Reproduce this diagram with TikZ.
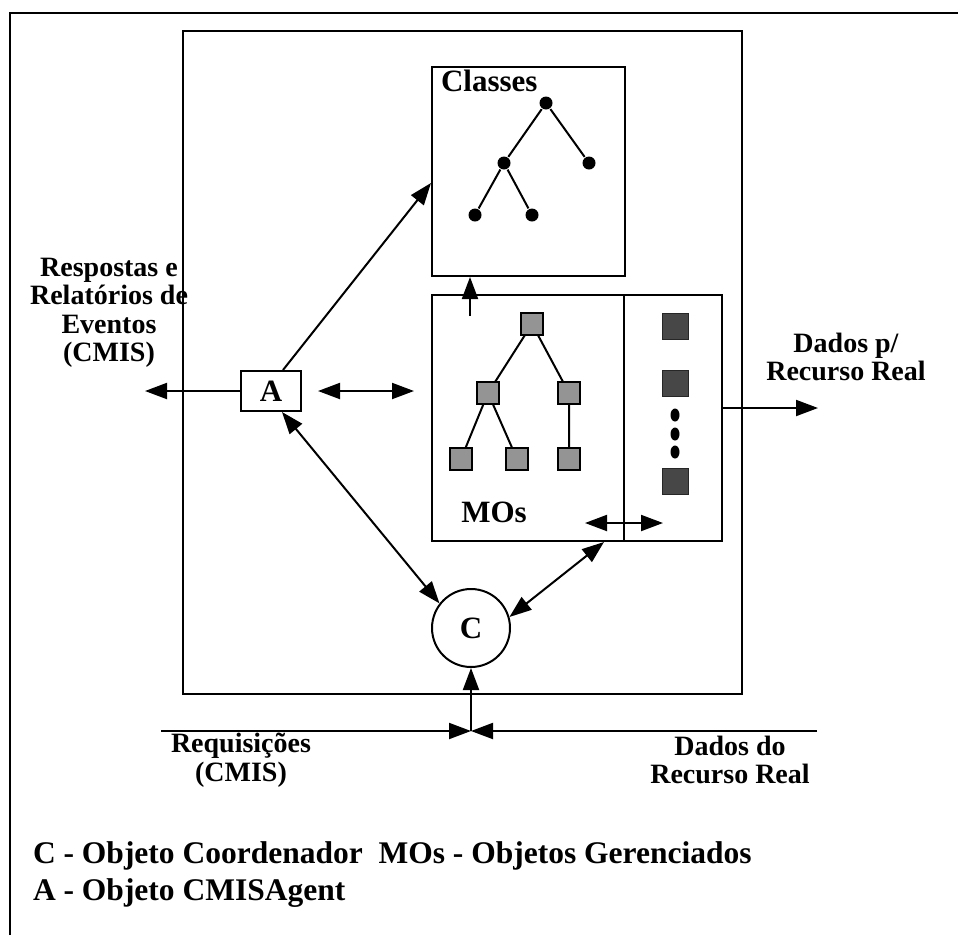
\documentclass[tikz,border=0pt]{standalone}
\usepackage{fontspec}
\setmainfont{Liberation Serif}
\usetikzlibrary{arrows.meta,calc,shapes.geometric}
\begin{document}
\begin{tikzpicture}[x=1pt,y=-1pt,
  line width=2pt,
  tip/.style={-{Triangle[length=22pt,width=16pt]}},
  biarrow/.style={{Triangle[length=22pt,width=16pt]}-{Triangle[length=22pt,width=16pt]}},
  frame/.style={draw,line width=2pt,inner sep=0pt},
  lbl/.style={font=\fontsize{28}{28.5}\selectfont\bfseries,align=center,inner sep=0pt},
  big/.style={font=\fontsize{31}{31}\selectfont\bfseries,inner sep=0pt},
  cls/.style={circle,fill=black,inner sep=0pt,minimum size=13pt},
  mo/.style={draw=black,line width=1.4pt,fill=black!42,inner sep=0pt,minimum size=22pt},
  inst/.style={draw=black!85,line width=1pt,fill=black!72,inner sep=0pt,minimum size=26pt},
  dotmark/.style={ellipse,fill=black,inner sep=0pt,minimum width=9pt,minimum height=13pt}]
\useasboundingbox (0,0) rectangle (958,935);
\fill[white] (0,0) rectangle (958,935);

% page frame (top and left edges)
\draw[line width=1.8pt] (10,935) -- (10,13) -- (958,13);

% agent container
\node[frame,minimum width=559pt,minimum height=663pt] (main) at (462.5,362.5) {};

% class hierarchy
\node[frame,minimum width=193pt,minimum height=209pt] (classes) at (528.5,171.5) {};
\node[big,anchor=north west] (clslbl) at (440,69) {Classes};
\node[cls] (c0) at (546,103) {};
\node[cls] (c1) at (504,163) {};
\node[cls] (c2) at (589,163) {};
\node[cls] (c3) at (475,215) {};
\node[cls] (c4) at (532,215) {};
\draw (c0) -- (c1) (c0) -- (c2) (c1) -- (c3) (c1) -- (c4);

% managed objects
\node[frame,minimum width=192pt,minimum height=246pt] (mos) at (528,418) {};
\node[frame,minimum width=98pt,minimum height=246pt] (res) at (673,418) {};
\draw (532,324) -- (488,393) (532,324) -- (569,393)
  (488,393) -- (461,459) (488,393) -- (517,459) (569,393) -- (569,459);
\node[mo] (m0) at (532,324) {};
\node[mo] (m1) at (488,393) {};
\node[mo] (m2) at (569,393) {};
\node[mo] (m3) at (461,459) {};
\node[mo] (m4) at (517,459) {};
\node[mo] (m5) at (569,459) {};
\node[big] (moslbl) at (494,512) {MOs};

% resource data column
\node[inst] (r0) at (675,326) {};
\node[inst] (r1) at (675,383) {};
\node[dotmark] (d0) at (675,415) {};
\node[dotmark] (d1) at (675,434) {};
\node[dotmark] (d2) at (675,452) {};
\node[inst] (r2) at (675,481) {};

% agent and coordinator objects
\node[frame,minimum width=60pt,minimum height=40pt,big] (A) at (271,391) {A};
\node[draw,circle,line width=2pt,minimum size=78pt,inner sep=0pt,big] (C) at (471,628) {C};

% free ends of the connectors
\coordinate (outL) at (145,391);
\coordinate (amL) at (318,391);
\coordinate (amR) at (414,391);
\coordinate (mrL) at (585,523);
\coordinate (mrR) at (663,523);
\coordinate (outR) at (818,408);
\coordinate (busL) at (161,731);
\coordinate (busR) at (817,731);
\coordinate (busJ) at (471,731);
\coordinate (moUp) at (470,316);

% connectors
\draw[tip] (A.west) -- (outL);
\draw[tip] ([xshift=12pt]A.north) -- ([yshift=-11.5pt]classes.west);
\draw[biarrow] (amL) -- (amR);
\draw[biarrow] ([xshift=11pt]A.south) -- (C.142);
\draw[biarrow] (C.16) -- ([xshift=76pt]mos.south);
\draw[tip] (moUp) -- ([xshift=-58.5pt]classes.south);
\draw[biarrow] (mrL) -- (mrR);
\draw[tip] ([yshift=10pt]res.east) -- (outR);
\draw[tip] (busL) -- (busJ);
\draw[tip] (busR) -- (busJ);
\draw[tip] (busJ) -- (C.south);

% labels
\node[lbl] (resp) at (109,313) {Respostas e\\Relatórios de\\Eventos\\(CMIS)};
\node[lbl] (dadosp) at (846,357) {Dados p/\\Recurso Real};
\node[lbl] (req) at (241,760) {Requisições\\(CMIS)};
\node[lbl] (dadosdo) at (730,760) {Dados do\\Recurso Real};

% legend
\node[anchor=west,inner sep=0pt,font=\fontsize{31.5}{32}\selectfont\bfseries] (leg1) at (32,856) {C - Objeto Coordenador\ \ MOs - Objetos Gerenciados};
\node[anchor=west,inner sep=0pt,font=\fontsize{31.5}{32}\selectfont\bfseries] (leg2) at (32,893) {A - Objeto CMISAgent};
\end{tikzpicture}
\end{document}
